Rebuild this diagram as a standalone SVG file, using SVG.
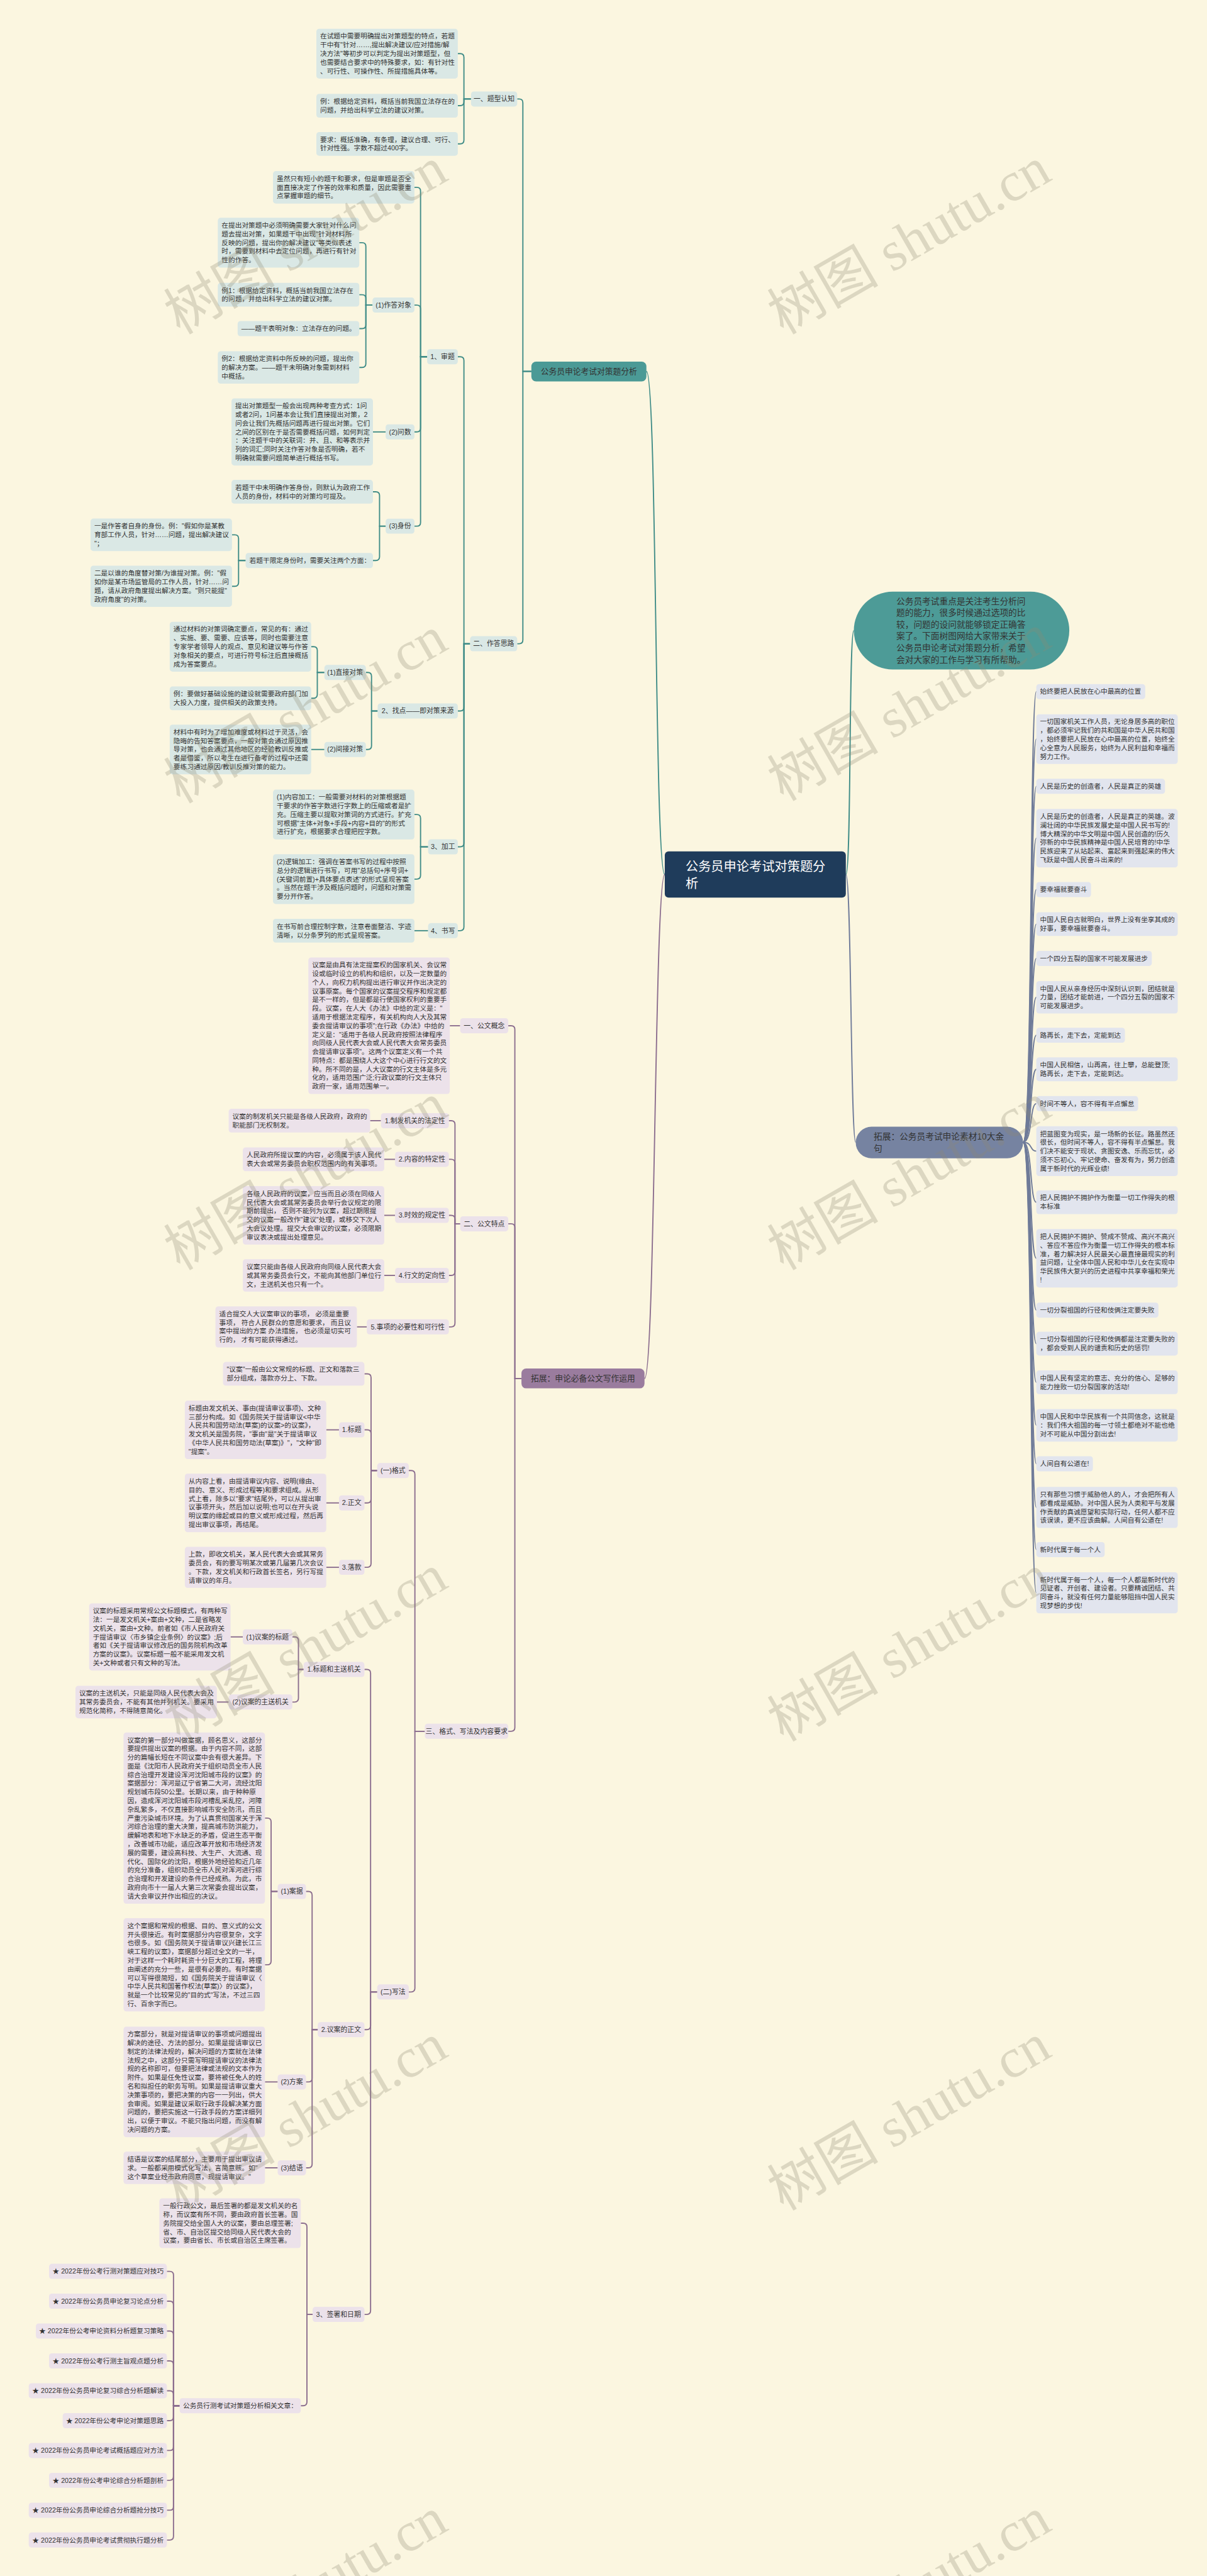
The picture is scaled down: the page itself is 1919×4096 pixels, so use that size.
<svg xmlns="http://www.w3.org/2000/svg" width="1919" height="4096" viewBox="0 0 1919 4096">
<style>
.t{font-family:'Liberation Sans','Noto Sans CJK SC',sans-serif;font-size:14.3px;fill:#333}
.l{font-family:'Liberation Sans','Noto Sans CJK SC',sans-serif;font-size:14.5px;fill:#333;text-anchor:middle}
.bt{fill:#dae8e5}
.bp{fill:#ece2ea}
.bs{fill:#e2e5ee}
.ct{fill:none;stroke:#3f8c87;stroke-width:2.5}
.cp{fill:none;stroke:#8b6d8e;stroke-width:2.5}
.cs{fill:none;stroke:#6f7b99;stroke-width:2.5}
.wm{font-family:'Liberation Serif','Noto Sans CJK SC',serif;font-size:118px;fill:#8f8a72;opacity:0.28;text-anchor:end}
</style>
<rect x="0" y="0" width="1919" height="4096" fill="#fbf6e0"/>
<g transform="scale(0.7496)">
<g id="connectors">
<path class="ct" d="M1410,1855 C1388,1855 1394,787.7 1371,787.7"/>
<path class="cp" d="M1410,1855 C1388,1855 1390,2924.1 1367,2924.1"/>
<path class="ct" d="M1794,1855 C1806,1855 1800,1337.5 1811,1337.5"/>
<path class="cs" d="M1794,1855 C1806,1855 1804,2423 1815,2423"/>
<path class="ct" d="M1127,787.7 H1109 V218 Q1109,210 1101,210 H1097"/>
<path class="ct" d="M1127,787.7 H1109 V1357.5 Q1109,1365.5 1101,1365.5 H1097"/>
<path class="ct" d="M999,210 H984 V121.8 Q984,113.8 976,113.8 H971"/>
<path class="ct" d="M999,210 H984 V216.2 Q984,224.2 976,224.2 H971"/>
<path class="ct" d="M999,210 H984 V297.2 Q984,305.2 976,305.2 H971"/>
<path class="ct" d="M997,1365.5 H984 V764.8 Q984,756.8 976,756.8 H971"/>
<path class="ct" d="M997,1365.5 H984 V1500.2 Q984,1508.2 976,1508.2 H971"/>
<path class="ct" d="M997,1365.5 H984 V1788.3 Q984,1796.3 976,1796.3 H971"/>
<path class="ct" d="M997,1365.5 H984 V1966.2 Q984,1974.2 976,1974.2 H971"/>
<path class="ct" d="M906,756.8 H892 V405.4 Q892,397.4 884,397.4 H879"/>
<path class="ct" d="M906,756.8 H892 V655.1 Q892,647.1 884,647.1 H879"/>
<path class="ct" d="M906,756.8 H892 V908.2 Q892,916.2 884,916.2 H879"/>
<path class="ct" d="M906,756.8 H892 V1108.1 Q892,1116.1 884,1116.1 H879"/>
<path class="ct" d="M790,647.1 H776 V522.8 Q776,514.8 768,514.8 H762"/>
<path class="ct" d="M790,647.1 H776 V633.2 Q776,625.2 768,625.2 H762"/>
<path class="ct" d="M790,647.1 H776 V689 Q776,697 768,697 H762"/>
<path class="ct" d="M790,647.1 H776 V771.4 Q776,779.4 768,779.4 H762"/>
<path class="ct" d="M818,916.2 H791"/>
<path class="ct" d="M818,1116.1 H805 V1051.2 Q805,1043.2 797,1043.2 H791"/>
<path class="ct" d="M818,1116.1 H805 V1181 Q805,1189 797,1189 H791"/>
<path class="ct" d="M521,1189 H506 V1142.4 Q506,1134.4 498,1134.4 H492"/>
<path class="ct" d="M521,1189 H506 V1235.6 Q506,1243.6 498,1243.6 H492"/>
<path class="ct" d="M801,1508.2 H788 V1434.5 Q788,1426.5 780,1426.5 H776"/>
<path class="ct" d="M801,1508.2 H788 V1581.8 Q788,1589.8 780,1589.8 H776"/>
<path class="ct" d="M688,1426.5 H673 V1379.8 Q673,1371.8 665,1371.8 H660"/>
<path class="ct" d="M688,1426.5 H673 V1473.2 Q673,1481.2 665,1481.2 H660"/>
<path class="ct" d="M688,1589.8 H660"/>
<path class="ct" d="M908,1796.3 H892 V1735.8 Q892,1727.8 884,1727.8 H879"/>
<path class="ct" d="M908,1796.3 H892 V1856.8 Q892,1864.8 884,1864.8 H879"/>
<path class="ct" d="M908,1974.2 H879"/>
<path class="cp" d="M1106,2924.1 H1092 V2183.8 Q1092,2175.8 1084,2175.8 H1078"/>
<path class="cp" d="M1106,2924.1 H1092 V2603.9 Q1092,2595.9 1084,2595.9 H1078"/>
<path class="cp" d="M1106,2924.1 H1092 V3664.4 Q1092,3672.4 1084,3672.4 H1078"/>
<path class="cp" d="M976,2175.8 H954"/>
<path class="cp" d="M976,2595.9 H965 V2385.2 Q965,2377.2 957,2377.2 H952"/>
<path class="cp" d="M976,2595.9 H965 V2467.2 Q965,2459.2 957,2459.2 H952"/>
<path class="cp" d="M976,2595.9 H965 V2586 Q965,2578 957,2578 H952"/>
<path class="cp" d="M976,2595.9 H965 V2697.4 Q965,2705.4 957,2705.4 H952"/>
<path class="cp" d="M976,2595.9 H965 V2806.6 Q965,2814.6 957,2814.6 H952"/>
<path class="cp" d="M808,2377.2 H785"/>
<path class="cp" d="M838,2459.2 H815"/>
<path class="cp" d="M838,2578 H815"/>
<path class="cp" d="M838,2705.4 H815"/>
<path class="cp" d="M778,2814.6 H757"/>
<path class="cp" d="M901,3672.4 H880 V3127.4 Q880,3119.4 872,3119.4 H867"/>
<path class="cp" d="M901,3672.4 H880 V4217.4 Q880,4225.4 872,4225.4 H867"/>
<path class="cp" d="M800,3119.4 H787 V2922.2 Q787,2914.2 779,2914.2 H773"/>
<path class="cp" d="M800,3119.4 H787 V3041 Q787,3033 779,3033 H773"/>
<path class="cp" d="M800,3119.4 H787 V3180 Q787,3188 779,3188 H773"/>
<path class="cp" d="M800,3119.4 H787 V3316.6 Q787,3324.6 779,3324.6 H773"/>
<path class="cp" d="M719,3033 H692"/>
<path class="cp" d="M719,3188 H692"/>
<path class="cp" d="M719,3324.6 H692"/>
<path class="cp" d="M800,4225.4 H786 V3549.3 Q786,3541.3 778,3541.3 H773"/>
<path class="cp" d="M800,4225.4 H786 V4297.3 Q786,4305.3 778,4305.3 H773"/>
<path class="cp" d="M800,4225.4 H786 V4901.4 Q786,4909.4 778,4909.4 H773"/>
<path class="cp" d="M644,3541.3 H633 V3480.2 Q633,3472.2 625,3472.2 H620"/>
<path class="cp" d="M644,3541.3 H633 V3602.4 Q633,3610.4 625,3610.4 H620"/>
<path class="cp" d="M515,3472.2 H489"/>
<path class="cp" d="M485,3610.4 H460"/>
<path class="cp" d="M674,4305.3 H662 V4020.2 Q662,4012.2 654,4012.2 H649"/>
<path class="cp" d="M674,4305.3 H662 V4408.2 Q662,4416.2 654,4416.2 H649"/>
<path class="cp" d="M674,4305.3 H662 V4590.4 Q662,4598.4 654,4598.4 H649"/>
<path class="cp" d="M589,4012.2 H575 V3864.6 Q575,3856.6 567,3856.6 H562"/>
<path class="cp" d="M589,4012.2 H575 V4159.8 Q575,4167.8 567,4167.8 H562"/>
<path class="cp" d="M589,4416.2 H562"/>
<path class="cp" d="M589,4598.4 H562"/>
<path class="cp" d="M663,4909.4 H651 V4723.8 Q651,4715.8 643,4715.8 H638"/>
<path class="cp" d="M663,4909.4 H651 V5095 Q651,5103 643,5103 H638"/>
<path class="cp" d="M381,5103 H368 V4826 Q368,4818 360,4818 H354"/>
<path class="cp" d="M381,5103 H368 V4889.3 Q368,4881.3 360,4881.3 H354"/>
<path class="cp" d="M381,5103 H368 V4952.7 Q368,4944.7 360,4944.7 H354"/>
<path class="cp" d="M381,5103 H368 V5016 Q368,5008 360,5008 H354"/>
<path class="cp" d="M381,5103 H368 V5079.3 Q368,5071.3 360,5071.3 H354"/>
<path class="cp" d="M381,5103 H368 V5126.7 Q368,5134.7 360,5134.7 H354"/>
<path class="cp" d="M381,5103 H368 V5190 Q368,5198 360,5198 H354"/>
<path class="cp" d="M381,5103 H368 V5253.3 Q368,5261.3 360,5261.3 H354"/>
<path class="cp" d="M381,5103 H368 V5316.7 Q368,5324.7 360,5324.7 H354"/>
<path class="cp" d="M381,5103 H368 V5380 Q368,5388 360,5388 H354"/>
<path class="cs" d="M2170,2423 C2190,2423 2184,1467 2198,1467"/>
<path class="cs" d="M2170,2423 C2190,2423 2184,1567.8 2198,1567.8"/>
<path class="cs" d="M2170,2423 C2190,2423 2184,1668 2198,1668"/>
<path class="cs" d="M2170,2423 C2190,2423 2184,1778 2198,1778"/>
<path class="cs" d="M2170,2423 C2190,2423 2184,1887 2198,1887"/>
<path class="cs" d="M2170,2423 C2190,2423 2184,1960.2 2198,1960.2"/>
<path class="cs" d="M2170,2423 C2190,2423 2184,2033 2198,2033"/>
<path class="cs" d="M2170,2423 C2190,2423 2184,2115.4 2198,2115.4"/>
<path class="cs" d="M2170,2423 C2190,2423 2184,2196 2198,2196"/>
<path class="cs" d="M2170,2423 C2190,2423 2184,2268.2 2198,2268.2"/>
<path class="cs" d="M2170,2423 C2190,2423 2184,2341 2198,2341"/>
<path class="cs" d="M2170,2423 C2190,2423 2184,2441.8 2198,2441.8"/>
<path class="cs" d="M2170,2423 C2190,2423 2184,2550.2 2198,2550.2"/>
<path class="cs" d="M2170,2423 C2190,2423 2184,2669 2198,2669"/>
<path class="cs" d="M2170,2423 C2190,2423 2184,2779 2198,2779"/>
<path class="cs" d="M2170,2423 C2190,2423 2184,2850.2 2198,2850.2"/>
<path class="cs" d="M2170,2423 C2190,2423 2184,2932.2 2198,2932.2"/>
<path class="cs" d="M2170,2423 C2190,2423 2184,3023.4 2198,3023.4"/>
<path class="cs" d="M2170,2423 C2190,2423 2184,3105 2198,3105"/>
<path class="cs" d="M2170,2423 C2190,2423 2184,3197.6 2198,3197.6"/>
<path class="cs" d="M2170,2423 C2190,2423 2184,3287 2198,3287"/>
<path class="cs" d="M2170,2423 C2190,2423 2184,3378.6 2198,3378.6"/>
</g>

<g id="n-center"><rect x="1410" y="1806" width="384" height="98" rx="8" fill="#1f3c5b"/><text x="1454" y="1848" style="font-family:'Liberation Sans','Noto Sans CJK SC',sans-serif;font-size:27px;fill:#fff"><tspan x="1454">公务员申论考试对策题分</tspan><tspan x="1454" dy="36">析</tspan></text></g>

<g id="n-teal-branch"><rect x="1127" y="767" width="244" height="42" rx="10" fill="#4b9a96"/><text class="l" x="1249" y="794" style="font-size:17px">公务员申论考试对策题分析</text></g>
<g id="n-purple-branch"><rect x="1106" y="2903" width="261" height="42" rx="10" fill="#9a7c9e"/><text class="l" x="1236.5" y="2930" style="font-size:17px">拓展：申论必备公文写作运用</text></g>
<g id="n-intro"><rect x="1811" y="1255" width="457" height="165" rx="82.5" fill="#4d9b97"/><text class="t" x="1901" y="1281.5" style="font-size:18.3px"><tspan x="1901">公务员考试重点是关注考生分析问</tspan><tspan x="1901" dy="24.8">题的能力，很多时候通过选项的比</tspan><tspan x="1901" dy="24.8">较，问题的设问就能够锁定正确答</tspan><tspan x="1901" dy="24.8">案了。下面树图网给大家带来关于</tspan><tspan x="1901" dy="24.8">公务员申论考试对策题分析，希望</tspan><tspan x="1901" dy="24.8">会对大家的工作与学习有所帮助。</tspan></text></g>
<g id="n-slate-branch"><rect x="1815" y="2390" width="355" height="67" rx="33.5" fill="#7683a1"/><text class="t" x="1853" y="2417.5" style="font-size:18.3px"><tspan x="1853">拓展：公务员考试申论素材10大金</tspan><tspan x="1853" dy="24.8">句</tspan></text></g>

<g id="n-tixing"><rect class="bt" x="999" y="194" width="98" height="32" rx="6"/><text class="l" x="1048" y="215">一、题型认知</text></g>
<g id="n-a1"><rect class="bt" x="671" y="61" width="300" height="105.6" rx="6"/><text class="t" x="679" y="82"><tspan x="679">在试题中需要明确提出对策题型的特点，若题</tspan><tspan x="679" dy="18.4">干中有"针对……,提出解决建议/应对措施/解</tspan><tspan x="679" dy="18.4">决方法"等初步可以判定为提出对策题型，但</tspan><tspan x="679" dy="18.4">也需要结合要求中的特殊要求，如：有针对性</tspan><tspan x="679" dy="18.4">、可行性、可操作性、所提措施具体等。</tspan></text></g>
<g id="n-a2"><rect class="bt" x="671" y="199" width="300" height="50.4" rx="6"/><text class="t" x="679" y="220"><tspan x="679">例：根据给定资料，概括当前我国立法存在的</tspan><tspan x="679" dy="18.4">问题，并给出科学立法的建议对策。</tspan></text></g>
<g id="n-a3"><rect class="bt" x="671" y="280" width="300" height="50.4" rx="6"/><text class="t" x="679" y="301"><tspan x="679">要求：概括准确，有条理，建议合理、可行、</tspan><tspan x="679" dy="18.4">针对性强。字数不超过400字。</tspan></text></g>

<g id="n-silu"><rect class="bt" x="997" y="1349.5" width="100" height="32" rx="6"/><text class="l" x="1047" y="1370.5">二、作答思路</text></g>
<g id="n-shenti"><rect class="bt" x="906" y="740.8" width="65" height="32" rx="6"/><text class="l" x="938.5" y="761.8">1、审题</text></g>
<g id="n-b1"><rect class="bt" x="579" y="363" width="300" height="68.8" rx="6"/><text class="t" x="587" y="384"><tspan x="587">虽然只有短小的题干和要求，但是审题是否全</tspan><tspan x="587" dy="18.4">面直接决定了作答的效率和质量，因此需要重</tspan><tspan x="587" dy="18.4">点掌握审题的细节。</tspan></text></g>
<g id="n-duixiang"><rect class="bt" x="790" y="631.1" width="89" height="32" rx="6"/><text class="l" x="834.5" y="652.1">(1)作答对象</text></g>
<g id="n-c1"><rect class="bt" x="462" y="462" width="300" height="105.6" rx="6"/><text class="t" x="470" y="483"><tspan x="470">在提出对策题中必须明确需要大家针对什么问</tspan><tspan x="470" dy="18.4">题去提出对策，如果题干中出现"针对材料所</tspan><tspan x="470" dy="18.4">反映的问题，提出你的解决建议"等类似表述</tspan><tspan x="470" dy="18.4">时，需要到材料中去定位问题，再进行有针对</tspan><tspan x="470" dy="18.4">性的作答。</tspan></text></g>
<g id="n-c2"><rect class="bt" x="462" y="600" width="300" height="50.4" rx="6"/><text class="t" x="470" y="621"><tspan x="470">例1：根据给定资料，概括当前我国立法存在</tspan><tspan x="470" dy="18.4">的问题，并给出科学立法的建议对策。</tspan></text></g>
<g id="n-c3"><rect class="bt" x="504" y="681" width="258" height="32" rx="6"/><text class="t" x="512" y="702">——题干表明对象：立法存在的问题。</text></g>
<g id="n-c4"><rect class="bt" x="462" y="745" width="300" height="68.8" rx="6"/><text class="t" x="470" y="766"><tspan x="470">例2：根据给定资料中所反映的问题，提出你</tspan><tspan x="470" dy="18.4">的解决方案。——题干未明确对象需到材料</tspan><tspan x="470" dy="18.4">中概括。</tspan></text></g>
<g id="n-wenshu"><rect class="bt" x="818" y="900.2" width="61" height="32" rx="6"/><text class="l" x="848.5" y="921.2">(2)问数</text></g>
<g id="n-d1"><rect class="bt" x="491" y="845" width="300" height="142.4" rx="6"/><text class="t" x="499" y="866"><tspan x="499">提出对策题型一般会出现两种考查方式：1问</tspan><tspan x="499" dy="18.4">或者2问，1问基本会让我们直接提出对策，2</tspan><tspan x="499" dy="18.4">问会让我们先概括问题再进行提出对策。它们</tspan><tspan x="499" dy="18.4">之间的区别在于是否需要概括问题，如何判定</tspan><tspan x="499" dy="18.4">：关注题干中的关联词：并、且、和等表示并</tspan><tspan x="499" dy="18.4">列的词汇;同时关注作答对象是否明确，若不</tspan><tspan x="499" dy="18.4">明确就需要问题简单进行概括书写。</tspan></text></g>
<g id="n-shenfen"><rect class="bt" x="818" y="1100.1" width="61" height="32" rx="6"/><text class="l" x="848.5" y="1121.1">(3)身份</text></g>
<g id="n-e1"><rect class="bt" x="491" y="1018" width="300" height="50.4" rx="6"/><text class="t" x="499" y="1039"><tspan x="499">若题干中未明确作答身份，则默认为政府工作</tspan><tspan x="499" dy="18.4">人员的身份，材料中的对策均可提及。</tspan></text></g>
<g id="n-f"><rect class="bt" x="521" y="1173" width="270" height="32" rx="6"/><text class="t" x="529" y="1194">若题干限定身份时，需要关注两个方面：</text></g>
<g id="n-f1"><rect class="bt" x="192" y="1100" width="300" height="68.8" rx="6"/><text class="t" x="200" y="1121"><tspan x="200">一是作答者自身的身份。例："假如你是某教</tspan><tspan x="200" dy="18.4">育部工作人员，针对……问题，提出解决建议</tspan><tspan x="200" dy="18.4">"；</tspan></text></g>
<g id="n-f2"><rect class="bt" x="192" y="1200" width="300" height="87.2" rx="6"/><text class="t" x="200" y="1221"><tspan x="200">二是以谁的角度替对策/为谁提对策。例："假</tspan><tspan x="200" dy="18.4">如你是某市场监管局的工作人员，针对……问</tspan><tspan x="200" dy="18.4">题，请从政府角度提出解决方案。"则只能提"</tspan><tspan x="200" dy="18.4">政府角度"的对策。</tspan></text></g>
<g id="n-zhaodian"><rect class="bt" x="801" y="1492.2" width="170" height="32" rx="6"/><text class="l" x="886" y="1513.2">2、找点——即对策来源</text></g>
<g id="n-zhijie"><rect class="bt" x="688" y="1410.5" width="88" height="32" rx="6"/><text class="l" x="732" y="1431.5">(1)直接对策</text></g>
<g id="n-g1"><rect class="bt" x="360" y="1319" width="300" height="105.6" rx="6"/><text class="t" x="368" y="1340"><tspan x="368">通过材料的对策词确定要点，常见的有：通过</tspan><tspan x="368" dy="18.4">、实施、要、需要、应该等，同时也需要注意</tspan><tspan x="368" dy="18.4">专家学者领导人的观点、意见和建议等与作答</tspan><tspan x="368" dy="18.4">对象相关的要点，可进行符号标注后直接概括</tspan><tspan x="368" dy="18.4">成为答案要点。</tspan></text></g>
<g id="n-g2"><rect class="bt" x="360" y="1456" width="300" height="50.4" rx="6"/><text class="t" x="368" y="1477"><tspan x="368">例：要做好基础设施的建设就需要政府部门加</tspan><tspan x="368" dy="18.4">大投入力度，提供相关的政策支持。</tspan></text></g>
<g id="n-jianjie"><rect class="bt" x="688" y="1573.8" width="88" height="32" rx="6"/><text class="l" x="732" y="1594.8">(2)间接对策</text></g>
<g id="n-h"><rect class="bt" x="360" y="1537" width="300" height="105.6" rx="6"/><text class="t" x="368" y="1558"><tspan x="368">材料中有时为了增加难度或材料过于灵活，会</tspan><tspan x="368" dy="18.4">隐晦的告知答案要点，一般对策会通过原因推</tspan><tspan x="368" dy="18.4">导对策，也会通过其他地区的经验教训反推或</tspan><tspan x="368" dy="18.4">者是借鉴，所以考生在进行备考的过程中还需</tspan><tspan x="368" dy="18.4">要练习通过原因/教训反推对策的能力。</tspan></text></g>
<g id="n-jiagong"><rect class="bt" x="908" y="1780.3" width="63" height="32" rx="6"/><text class="l" x="939.5" y="1801.3">3、加工</text></g>
<g id="n-i1"><rect class="bt" x="579" y="1675" width="300" height="105.6" rx="6"/><text class="t" x="587" y="1696"><tspan x="587">(1)内容加工：一般需要对材料的对策根据题</tspan><tspan x="587" dy="18.4">干要求的作答字数进行字数上的压缩或者是扩</tspan><tspan x="587" dy="18.4">充。压缩主要以提取对策词的方式进行。扩充</tspan><tspan x="587" dy="18.4">可根据"主体+对象+手段+内容+目的"的形式</tspan><tspan x="587" dy="18.4">进行扩充，根据要求合理把控字数。</tspan></text></g>
<g id="n-i2"><rect class="bt" x="579" y="1812" width="300" height="105.6" rx="6"/><text class="t" x="587" y="1833"><tspan x="587">(2)逻辑加工：强调在答案书写的过程中按照</tspan><tspan x="587" dy="18.4">总分的逻辑进行书写，可用"总括句+序号词+</tspan><tspan x="587" dy="18.4">(关键词前置)+具体要点表述"的形式呈现答案</tspan><tspan x="587" dy="18.4">。当然在题干涉及概括问题时，问题和对策需</tspan><tspan x="587" dy="18.4">要分开作答。</tspan></text></g>
<g id="n-shuxie"><rect class="bt" x="908" y="1958.2" width="63" height="32" rx="6"/><text class="l" x="939.5" y="1979.2">4、书写</text></g>
<g id="n-j"><rect class="bt" x="579" y="1949" width="300" height="50.4" rx="6"/><text class="t" x="587" y="1970"><tspan x="587">在书写前合理控制字数，注意卷面整洁、字迹</tspan><tspan x="587" dy="18.4">清晰，以分条罗列的形式呈现答案。</tspan></text></g>

<g id="n-gainian"><rect class="bp" x="976" y="2159.8" width="102" height="32" rx="6"/><text class="l" x="1027" y="2180.8">一、公文概念</text></g>
<g id="n-k"><rect class="bp" x="654" y="2031" width="300" height="289.6" rx="6"/><text class="t" x="662" y="2052"><tspan x="662">议案是由具有法定提案权的国家机关、会议常</tspan><tspan x="662" dy="18.4">设或临时设立的机构和组织，以及一定数量的</tspan><tspan x="662" dy="18.4">个人，向权力机构提出进行审议并作出决定的</tspan><tspan x="662" dy="18.4">议事原案。每个国家的议案提交程序和规定都</tspan><tspan x="662" dy="18.4">是不一样的，但是都是行使国家权利的重要手</tspan><tspan x="662" dy="18.4">段。议案，在人大《办法》中给的定义是："</tspan><tspan x="662" dy="18.4">适用于根据法定程序，有关机构向人大及其常</tspan><tspan x="662" dy="18.4">委会提请审议的事项";在行政《办法》中给的</tspan><tspan x="662" dy="18.4">定义是："适用于各级人民政府按照法律程序</tspan><tspan x="662" dy="18.4">向同级人民代表大会或人民代表大会常务委员</tspan><tspan x="662" dy="18.4">会提请审议事项"。这两个议案定义有一个共</tspan><tspan x="662" dy="18.4">同特点：都是围绕人大这个中心进行行文的文</tspan><tspan x="662" dy="18.4">种。所不同的是，人大议案的行文主体是多元</tspan><tspan x="662" dy="18.4">化的，适用范围广泛;行政议案的行文主体只</tspan><tspan x="662" dy="18.4">政府一家，适用范围单一。</tspan></text></g>
<g id="n-tedian"><rect class="bp" x="976" y="2579.9" width="102" height="32" rx="6"/><text class="l" x="1027" y="2600.9">二、公文特点</text></g>
<g id="n-t1"><rect class="bp" x="808" y="2361.2" width="144" height="32" rx="6"/><text class="l" x="880" y="2382.2">1.制发机关的法定性</text></g>
<g id="n-l1"><rect class="bp" x="485" y="2352" width="300" height="50.4" rx="6"/><text class="t" x="493" y="2373"><tspan x="493">议案的制发机关只能是各级人民政府，政府的</tspan><tspan x="493" dy="18.4">职能部门无权制发。</tspan></text></g>
<g id="n-t2"><rect class="bp" x="838" y="2443.2" width="114" height="32" rx="6"/><text class="l" x="895" y="2464.2">2.内容的特定性</text></g>
<g id="n-l2"><rect class="bp" x="515" y="2434" width="300" height="50.4" rx="6"/><text class="t" x="523" y="2455"><tspan x="523">人民政府所提议案的内容，必须属于该人民代</tspan><tspan x="523" dy="18.4">表大会或常务委员会职权范围内的有关事项。</tspan></text></g>
<g id="n-t3"><rect class="bp" x="838" y="2562" width="114" height="32" rx="6"/><text class="l" x="895" y="2583">3.时效的规定性</text></g>
<g id="n-l3"><rect class="bp" x="515" y="2516" width="300" height="124" rx="6"/><text class="t" x="523" y="2537"><tspan x="523">各级人民政府的议案，应当而且必须在同级人</tspan><tspan x="523" dy="18.4">民代表大会或其常务委员会举行会议规定的限</tspan><tspan x="523" dy="18.4">期前提出， 否则不能列为议案，超过期限提</tspan><tspan x="523" dy="18.4">交的议案一般改作"建议"处理，或移交下次人</tspan><tspan x="523" dy="18.4">大会议处理。提交大会审议的议案，必须限期</tspan><tspan x="523" dy="18.4">审议表决或提出处理意见。</tspan></text></g>
<g id="n-t4"><rect class="bp" x="838" y="2689.4" width="114" height="32" rx="6"/><text class="l" x="895" y="2710.4">4.行文的定向性</text></g>
<g id="n-l4"><rect class="bp" x="515" y="2671" width="300" height="68.8" rx="6"/><text class="t" x="523" y="2692"><tspan x="523">议案只能由各级人民政府向同级人民代表大会</tspan><tspan x="523" dy="18.4">或其常务委员会行文，不能向其他部门单位行</tspan><tspan x="523" dy="18.4">文，主送机关也只有一个。</tspan></text></g>
<g id="n-t5"><rect class="bp" x="778" y="2798.6" width="174" height="32" rx="6"/><text class="l" x="865" y="2819.6">5.事项的必要性和可行性</text></g>
<g id="n-l5"><rect class="bp" x="457" y="2771" width="300" height="87.2" rx="6"/><text class="t" x="465" y="2792"><tspan x="465">适合提交人大议案审议的事项， 必须是重要</tspan><tspan x="465" dy="18.4">事项， 符合人民群众的意愿和要求， 而且议</tspan><tspan x="465" dy="18.4">案中提出的方案 办法措施， 也必须是切实可</tspan><tspan x="465" dy="18.4">行的， 才有可能获得通过。</tspan></text></g>

<g id="n-geshi3"><rect class="bp" x="901" y="3656.4" width="177" height="32" rx="6"/><text class="l" x="989.5" y="3677.4">三、格式、写法及内容要求</text></g>
<g id="n-geshi"><rect class="bp" x="800" y="3103.4" width="67" height="32" rx="6"/><text class="l" x="833.5" y="3124.4">(一)格式</text></g>
<g id="n-m0"><rect class="bp" x="473" y="2889" width="300" height="50.4" rx="6"/><text class="t" x="481" y="2910"><tspan x="481">"议案"一般由公文常规的标题、正文和落款三</tspan><tspan x="481" dy="18.4">部分组成，落款亦分上、下款。</tspan></text></g>
<g id="n-biaoti"><rect class="bp" x="719" y="3017" width="54" height="32" rx="6"/><text class="l" x="746" y="3038">1.标题</text></g>
<g id="n-m1"><rect class="bp" x="392" y="2971" width="300" height="124" rx="6"/><text class="t" x="400" y="2992"><tspan x="400">标题由发文机关、事由(提请审议事项)、文种</tspan><tspan x="400" dy="18.4">三部分构成。如《国务院关于提请审议&lt;中华</tspan><tspan x="400" dy="18.4">人民共和国劳动法(草案)的议案&gt;的议案》，</tspan><tspan x="400" dy="18.4">发文机关是国务院，"事由"是"关于提请审议</tspan><tspan x="400" dy="18.4">《中华人民共和国劳动法(草案)》"，"文种"即</tspan><tspan x="400" dy="18.4">"提案"。</tspan></text></g>
<g id="n-zhengwen"><rect class="bp" x="719" y="3172" width="54" height="32" rx="6"/><text class="l" x="746" y="3193">2.正文</text></g>
<g id="n-m2"><rect class="bp" x="392" y="3126" width="300" height="124" rx="6"/><text class="t" x="400" y="3147"><tspan x="400">从内容上看，由提请审议内容、说明(缘由、</tspan><tspan x="400" dy="18.4">目的、意义、形成过程等)和要求组成。从形</tspan><tspan x="400" dy="18.4">式上看，除多以"要求"结尾外，可以从提出审</tspan><tspan x="400" dy="18.4">议事项开头，然后加以说明;也可以在开头说</tspan><tspan x="400" dy="18.4">明议案的缘起或目的意义或形成过程，然后再</tspan><tspan x="400" dy="18.4">提出审议事项，再结尾。</tspan></text></g>
<g id="n-luokuan"><rect class="bp" x="719" y="3308.6" width="54" height="32" rx="6"/><text class="l" x="746" y="3329.6">3.落款</text></g>
<g id="n-m3"><rect class="bp" x="392" y="3281" width="300" height="87.2" rx="6"/><text class="t" x="400" y="3302"><tspan x="400">上款，即收文机关，某人民代表大会或其常务</tspan><tspan x="400" dy="18.4">委员会，有的要写明某次或第几届第几次会议</tspan><tspan x="400" dy="18.4">。下款，发文机关和行政首长签名，另行写提</tspan><tspan x="400" dy="18.4">请审议的年月。</tspan></text></g>

<g id="n-xiefa"><rect class="bp" x="800" y="4209.4" width="67" height="32" rx="6"/><text class="l" x="833.5" y="4230.4">(二)写法</text></g>
<g id="n-zhusong"><rect class="bp" x="644" y="3525.3" width="129" height="32" rx="6"/><text class="l" x="708.5" y="3546.3">1.标题和主送机关</text></g>
<g id="n-yabt"><rect class="bp" x="515" y="3456.2" width="105" height="32" rx="6"/><text class="l" x="567.5" y="3477.2">(1)议案的标题</text></g>
<g id="n-n1"><rect class="bp" x="189" y="3401" width="300" height="142.4" rx="6"/><text class="t" x="197" y="3422"><tspan x="197">议案的标题采用常规公文标题模式，有两种写</tspan><tspan x="197" dy="18.4">法：一是发文机关+案由+文种，二是省略发</tspan><tspan x="197" dy="18.4">文机关，案由+文种。前者如《市人民政府关</tspan><tspan x="197" dy="18.4">于提请审议〈市乡镇企业条例〉的议案》;后</tspan><tspan x="197" dy="18.4">者如《关于提请审议修改后的国务院机构改革</tspan><tspan x="197" dy="18.4">方案的议案》。议案标题一般不能采用发文机</tspan><tspan x="197" dy="18.4">关+文种或者只有文种的写法。</tspan></text></g>
<g id="n-yazs"><rect class="bp" x="485" y="3594.4" width="135" height="32" rx="6"/><text class="l" x="552.5" y="3615.4">(2)议案的主送机关</text></g>
<g id="n-n2"><rect class="bp" x="160" y="3576" width="300" height="68.8" rx="6"/><text class="t" x="168" y="3597"><tspan x="168">议案的主送机关，只能是同级人民代表大会及</tspan><tspan x="168" dy="18.4">其常务委员会，不能有其他并列机关。要采用</tspan><tspan x="168" dy="18.4">规范化简称，不得随意简化。</tspan></text></g>
<g id="n-yazw"><rect class="bp" x="674" y="4289.3" width="99" height="32" rx="6"/><text class="l" x="723.5" y="4310.3">2.议案的正文</text></g>
<g id="n-anju"><rect class="bp" x="589" y="3996.2" width="60" height="32" rx="6"/><text class="l" x="619" y="4017.2">(1)案据</text></g>
<g id="n-o1"><rect class="bp" x="262" y="3675" width="300" height="363.2" rx="6"/><text class="t" x="270" y="3696"><tspan x="270">议案的第一部分叫做案据，顾名思义，这部分</tspan><tspan x="270" dy="18.4">要提供提出议案的根据。由于内容不同，这部</tspan><tspan x="270" dy="18.4">分的篇幅长短在不同议案中会有很大差异。下</tspan><tspan x="270" dy="18.4">面是《沈阳市人民政府关于组织动员全市人民</tspan><tspan x="270" dy="18.4">综合治理开发建设浑河沈阳城市段的议案》的</tspan><tspan x="270" dy="18.4">案据部分：浑河是辽宁省第二大河，流经沈阳</tspan><tspan x="270" dy="18.4">规划城市段50公里。长期以来，由于种种原</tspan><tspan x="270" dy="18.4">因，造成浑河沈阳城市段河槽乱采乱挖，河障</tspan><tspan x="270" dy="18.4">杂乱繁多，不仅直接影响城市安全防汛，而且</tspan><tspan x="270" dy="18.4">严重污染城市环境。为了认真贯彻国家关于浑</tspan><tspan x="270" dy="18.4">河综合治理的重大决策，提高城市防洪能力，</tspan><tspan x="270" dy="18.4">缓解地表和地下水缺乏的矛盾，促进生态平衡</tspan><tspan x="270" dy="18.4">，改善城市功能，适应改革开放和市场经济发</tspan><tspan x="270" dy="18.4">展的需要，建设高科技、大生产、大流通、现</tspan><tspan x="270" dy="18.4">代化、国际化的沈阳，根据外地经验和近几年</tspan><tspan x="270" dy="18.4">的充分准备，组织动员全市人民对浑河进行综</tspan><tspan x="270" dy="18.4">合治理和开发建设的条件已经成熟。为此，市</tspan><tspan x="270" dy="18.4">政府向市十一届人大第三次常委会提出议案，</tspan><tspan x="270" dy="18.4">请大会审议并作出相应的决议。</tspan></text></g>
<g id="n-o2"><rect class="bp" x="262" y="4069" width="300" height="197.6" rx="6"/><text class="t" x="270" y="4090"><tspan x="270">这个案据和常规的根据、目的、意义式的公文</tspan><tspan x="270" dy="18.4">开头很接近。有时案据部分内容很复杂，文字</tspan><tspan x="270" dy="18.4">也很多。如《国务院关于提请审议兴建长江三</tspan><tspan x="270" dy="18.4">峡工程的议案》，案据部分超过全文的一半，</tspan><tspan x="270" dy="18.4">对于这样一个耗时耗资十分巨大的工程，将理</tspan><tspan x="270" dy="18.4">由阐述的充分一些，是很有必要的。有时案据</tspan><tspan x="270" dy="18.4">可以写得很简短，如《国务院关于提请审议〈</tspan><tspan x="270" dy="18.4">中华人民共和国著作权法(草案)〉的议案》，</tspan><tspan x="270" dy="18.4">就是一个比较常见的"目的式"写法，不过三四</tspan><tspan x="270" dy="18.4">行、百余字而已。</tspan></text></g>
<g id="n-fangan"><rect class="bp" x="589" y="4400.2" width="60" height="32" rx="6"/><text class="l" x="619" y="4421.2">(2)方案</text></g>
<g id="n-p"><rect class="bp" x="262" y="4299" width="300" height="234.4" rx="6"/><text class="t" x="270" y="4320"><tspan x="270">方案部分，就是对提请审议的事项或问题提出</tspan><tspan x="270" dy="18.4">解决的途径、方法的部分。如果是提请审议已</tspan><tspan x="270" dy="18.4">制定的法律法规的，解决问题的方案就在法律</tspan><tspan x="270" dy="18.4">法规之中，这部分只需写明提请审议的法律法</tspan><tspan x="270" dy="18.4">规的名称即可，但要把法律或法规的文本作为</tspan><tspan x="270" dy="18.4">附件。如果是任免性议案，要将被任免人的姓</tspan><tspan x="270" dy="18.4">名和拟担任的职务写明。如果是提请审议重大</tspan><tspan x="270" dy="18.4">决策事项的，要把决策的内容一一列出，供大</tspan><tspan x="270" dy="18.4">会审阅。如果是建议采取行政手段解决某方面</tspan><tspan x="270" dy="18.4">问题的，要把实施这一行政手段的方案详细列</tspan><tspan x="270" dy="18.4">出，以便于审议。不能只指出问题，而没有解</tspan><tspan x="270" dy="18.4">决问题的方案。</tspan></text></g>
<g id="n-jieyu"><rect class="bp" x="589" y="4582.4" width="60" height="32" rx="6"/><text class="l" x="619" y="4603.4">(3)结语</text></g>
<g id="n-q"><rect class="bp" x="262" y="4564" width="300" height="68.8" rx="6"/><text class="t" x="270" y="4585"><tspan x="270">结语是议案的结尾部分，主要用于提出审议请</tspan><tspan x="270" dy="18.4">求。一般都采用模式化写法，言简意赅。如"</tspan><tspan x="270" dy="18.4">这个草案业经市政府同意，现提请审议。"</tspan></text></g>
<g id="n-qianshu"><rect class="bp" x="663" y="4893.4" width="110" height="32" rx="6"/><text class="l" x="718" y="4914.4">3、签署和日期</text></g>
<g id="n-r"><rect class="bp" x="338" y="4663" width="300" height="105.6" rx="6"/><text class="t" x="346" y="4684"><tspan x="346">一般行政公文，最后签署的都是发文机关的名</tspan><tspan x="346" dy="18.4">称，而议案有所不同，要由政府首长签署。国</tspan><tspan x="346" dy="18.4">务院提交给全国人大的议案，要由总理签署;</tspan><tspan x="346" dy="18.4">省、市、自治区提交给同级人民代表大会的</tspan><tspan x="346" dy="18.4">议案，要由省长、市长或自治区主席签署。</tspan></text></g>
<g id="n-xiangguan"><rect class="bp" x="381" y="5087" width="257" height="32" rx="6"/><text class="l" x="509.5" y="5108" style="font-size:14.3px">公务员行测考试对策题分析相关文章：</text></g>
<g id="n-list">
<rect class="bp" x="104" y="4802" width="250" height="32" rx="6"/><text class="t" x="347" y="4823" text-anchor="end">★ 2022年份公考行测对策题应对技巧</text>
<rect class="bp" x="104" y="4865.3" width="250" height="32" rx="6"/><text class="t" x="347" y="4886.3" text-anchor="end">★ 2022年份公务员申论复习论点分析</text>
<rect class="bp" x="76" y="4928.7" width="278" height="32" rx="6"/><text class="t" x="347" y="4949.7" text-anchor="end">★ 2022年份公考申论资料分析题复习策略</text>
<rect class="bp" x="104" y="4992" width="250" height="32" rx="6"/><text class="t" x="347" y="5013" text-anchor="end">★ 2022年份公考行测主旨观点题分析</text>
<rect class="bp" x="61" y="5055.3" width="293" height="32" rx="6"/><text class="t" x="347" y="5076.3" text-anchor="end">★ 2022年份公务员申论复习综合分析题解读</text>
<rect class="bp" x="133" y="5118.7" width="221" height="32" rx="6"/><text class="t" x="347" y="5139.7" text-anchor="end">★ 2022年份公考申论对策题思路</text>
<rect class="bp" x="61" y="5182" width="293" height="32" rx="6"/><text class="t" x="347" y="5203" text-anchor="end">★ 2022年份公务员申论考试概括题应对方法</text>
<rect class="bp" x="104" y="5245.3" width="250" height="32" rx="6"/><text class="t" x="347" y="5266.3" text-anchor="end">★ 2022年份公考申论综合分析题剖析</text>
<rect class="bp" x="61" y="5308.7" width="293" height="32" rx="6"/><text class="t" x="347" y="5329.7" text-anchor="end">★ 2022年份公务员申论综合分析题抢分技巧</text>
<rect class="bp" x="61" y="5372" width="293" height="32" rx="6"/><text class="t" x="347" y="5393" text-anchor="end">★ 2022年份公务员申论考试贯彻执行题分析</text>
</g>

<g id="n-quotes">
<rect class="bs" x="2198" y="1451" width="231" height="32" rx="6"/><text class="t" x="2206" y="1472">始终要把人民放在心中最高的位置</text>
<rect class="bs" x="2198" y="1515" width="300" height="105.6" rx="6"/><text class="t" x="2206" y="1536"><tspan x="2206">一切国家机关工作人员，无论身居多高的职位</tspan><tspan x="2206" dy="18.4">，都必须牢记我们的共和国是中华人民共和国</tspan><tspan x="2206" dy="18.4">，始终要把人民放在心中最高的位置，始终全</tspan><tspan x="2206" dy="18.4">心全意为人民服务，始终为人民利益和幸福而</tspan><tspan x="2206" dy="18.4">努力工作。</tspan></text>
<rect class="bs" x="2198" y="1652" width="273" height="32" rx="6"/><text class="t" x="2206" y="1673">人民是历史的创造者，人民是真正的英雄</text>
<rect class="bs" x="2198" y="1716" width="300" height="124" rx="6"/><text class="t" x="2206" y="1737"><tspan x="2206">人民是历史的创造者，人民是真正的英雄。波</tspan><tspan x="2206" dy="18.4">澜壮阔的中华民族发展史是中国人民书写的!</tspan><tspan x="2206" dy="18.4">博大精深的中华文明是中国人民创造的!历久</tspan><tspan x="2206" dy="18.4">弥新的中华民族精神是中国人民培育的!中华</tspan><tspan x="2206" dy="18.4">民族迎来了从站起来、富起来到强起来的伟大</tspan><tspan x="2206" dy="18.4">飞跃是中国人民奋斗出来的!</tspan></text>
<rect class="bs" x="2198" y="1871" width="116" height="32" rx="6"/><text class="t" x="2206" y="1892">要幸福就要奋斗</text>
<rect class="bs" x="2198" y="1935" width="300" height="50.4" rx="6"/><text class="t" x="2206" y="1956"><tspan x="2206">中国人民自古就明白，世界上没有坐享其成的</tspan><tspan x="2206" dy="18.4">好事，要幸福就要奋斗。</tspan></text>
<rect class="bs" x="2198" y="2017" width="245" height="32" rx="6"/><text class="t" x="2206" y="2038">一个四分五裂的国家不可能发展进步</text>
<rect class="bs" x="2198" y="2081" width="300" height="68.8" rx="6"/><text class="t" x="2206" y="2102"><tspan x="2206">中国人民从亲身经历中深刻认识到，团结就是</tspan><tspan x="2206" dy="18.4">力量，团结才能前进，一个四分五裂的国家不</tspan><tspan x="2206" dy="18.4">可能发展进步。</tspan></text>
<rect class="bs" x="2198" y="2180" width="188" height="32" rx="6"/><text class="t" x="2206" y="2201">路再长，走下去，定能到达</text>
<rect class="bs" x="2198" y="2243" width="300" height="50.4" rx="6"/><text class="t" x="2206" y="2264"><tspan x="2206">中国人民相信，山再高，往上攀，总能登顶;</tspan><tspan x="2206" dy="18.4">路再长，走下去，定能到达。</tspan></text>
<rect class="bs" x="2198" y="2325" width="216" height="32" rx="6"/><text class="t" x="2206" y="2346">时间不等人，容不得有半点懈怠</text>
<rect class="bs" x="2198" y="2389" width="300" height="105.6" rx="6"/><text class="t" x="2206" y="2410"><tspan x="2206">把蓝图变为现实，是一场新的长征。路虽然还</tspan><tspan x="2206" dy="18.4">很长，但时间不等人，容不得有半点懈怠。我</tspan><tspan x="2206" dy="18.4">们决不能安于现状、贪图安逸、乐而忘忧，必</tspan><tspan x="2206" dy="18.4">须不忘初心、牢记使命、奋发有为，努力创造</tspan><tspan x="2206" dy="18.4">属于新时代的光辉业绩!</tspan></text>
<rect class="bs" x="2198" y="2525" width="300" height="50.4" rx="6"/><text class="t" x="2206" y="2546"><tspan x="2206">把人民拥护不拥护作为衡量一切工作得失的根</tspan><tspan x="2206" dy="18.4">本标准</tspan></text>
<rect class="bs" x="2198" y="2607" width="300" height="124" rx="6"/><text class="t" x="2206" y="2628"><tspan x="2206">把人民拥护不拥护、赞成不赞成、高兴不高兴</tspan><tspan x="2206" dy="18.4">、答应不答应作为衡量一切工作得失的根本标</tspan><tspan x="2206" dy="18.4">准，着力解决好人民最关心最直接最现实的利</tspan><tspan x="2206" dy="18.4">益问题，让全体中国人民和中华儿女在实现中</tspan><tspan x="2206" dy="18.4">华民族伟大复兴的历史进程中共享幸福和荣光</tspan><tspan x="2206" dy="18.4">!</tspan></text>
<rect class="bs" x="2198" y="2763" width="259" height="32" rx="6"/><text class="t" x="2206" y="2784">一切分裂祖国的行径和伎俩注定要失败</text>
<rect class="bs" x="2198" y="2825" width="300" height="50.4" rx="6"/><text class="t" x="2206" y="2846"><tspan x="2206">一切分裂祖国的行径和伎俩都是注定要失败的</tspan><tspan x="2206" dy="18.4">，都会受到人民的谴责和历史的惩罚!</tspan></text>
<rect class="bs" x="2198" y="2907" width="300" height="50.4" rx="6"/><text class="t" x="2206" y="2928"><tspan x="2206">中国人民有坚定的意志、充分的信心、足够的</tspan><tspan x="2206" dy="18.4">能力挫败一切分裂国家的活动!</tspan></text>
<rect class="bs" x="2198" y="2989" width="300" height="68.8" rx="6"/><text class="t" x="2206" y="3010"><tspan x="2206">中国人民和中华民族有一个共同信念，这就是</tspan><tspan x="2206" dy="18.4">：我们伟大祖国的每一寸领土都绝对不能也绝</tspan><tspan x="2206" dy="18.4">对不可能从中国分割出去!</tspan></text>
<rect class="bs" x="2198" y="3089" width="120" height="32" rx="6"/><text class="t" x="2206" y="3110">人间自有公道在!</text>
<rect class="bs" x="2198" y="3154" width="300" height="87.2" rx="6"/><text class="t" x="2206" y="3175"><tspan x="2206">只有那些习惯于威胁他人的人，才会把所有人</tspan><tspan x="2206" dy="18.4">都看成是威胁。对中国人民为人类和平与发展</tspan><tspan x="2206" dy="18.4">作贡献的真诚愿望和实际行动，任何人都不应</tspan><tspan x="2206" dy="18.4">该误读，更不应该曲解。人间自有公道在!</tspan></text>
<rect class="bs" x="2198" y="3271" width="145" height="32" rx="6"/><text class="t" x="2206" y="3292">新时代属于每一个人</text>
<rect class="bs" x="2198" y="3335" width="300" height="87.2" rx="6"/><text class="t" x="2206" y="3356"><tspan x="2206">新时代属于每一个人，每一个人都是新时代的</tspan><tspan x="2206" dy="18.4">见证者、开创者、建设者。只要精诚团结、共</tspan><tspan x="2206" dy="18.4">同奋斗，就没有任何力量能够阻挡中国人民实</tspan><tspan x="2206" dy="18.4">现梦想的步伐!</tspan></text>
</g>

<g id="watermark">
<text class="wm" x="955" y="380" transform="rotate(-30 955 380)">树图 shutu.cn</text>
<text class="wm" x="2235" y="380" transform="rotate(-30 2235 380)">树图 shutu.cn</text>
<text class="wm" x="955" y="1375" transform="rotate(-30 955 1375)">树图 shutu.cn</text>
<text class="wm" x="2235" y="1370" transform="rotate(-30 2235 1370)">树图 shutu.cn</text>
<text class="wm" x="955" y="2365" transform="rotate(-30 955 2365)">树图 shutu.cn</text>
<text class="wm" x="2235" y="2365" transform="rotate(-30 2235 2365)">树图 shutu.cn</text>
<text class="wm" x="955" y="3365" transform="rotate(-30 955 3365)">树图 shutu.cn</text>
<text class="wm" x="2235" y="3365" transform="rotate(-30 2235 3365)">树图 shutu.cn</text>
<text class="wm" x="955" y="4360" transform="rotate(-30 955 4360)">树图 shutu.cn</text>
<text class="wm" x="2235" y="4360" transform="rotate(-30 2235 4360)">树图 shutu.cn</text>
<text class="wm" x="955" y="5365" transform="rotate(-30 955 5365)">树图 shutu.cn</text>
<text class="wm" x="2235" y="5365" transform="rotate(-30 2235 5365)">树图 shutu.cn</text>
</g>
</g>
</svg>
